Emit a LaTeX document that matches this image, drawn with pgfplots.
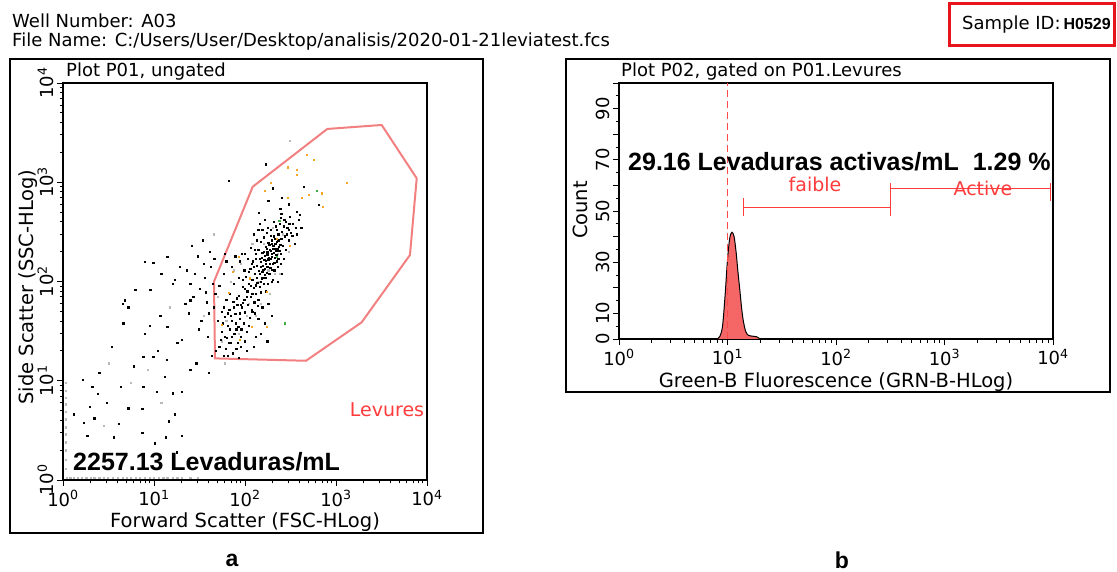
\documentclass[border=0pt]{standalone}
\usepackage{fontspec}
\setmainfont{DejaVu Sans}
\newfontfamily\arialf{Liberation Sans}
\usepackage{pgfplots}
\pgfplotsset{compat=1.18}

\definecolor{gatepink}{HTML}{F28080}
\definecolor{redtxt}{HTML}{FF3B3B}
\definecolor{dashred}{HTML}{FF4A4A}
\definecolor{histfill}{HTML}{F56666}
\definecolor{orangept}{HTML}{F5A623}
\definecolor{greenpt}{HTML}{3CB043}
\definecolor{boxred}{HTML}{E8141C}

\newcommand{\tfont}{\fontsize{18}{20}\selectfont}
\newcommand{\lfont}{\fontsize{19.5}{22}\selectfont}
\newcommand{\rfont}{\fontsize{19}{22}\selectfont}
\newcommand{\bigfont}{\arialf\bfseries\fontsize{25}{28}\selectfont}

\pgfplotsset{
  fcsaxis/.style={
    scale only axis,
    anchor=south west,
    xmin=1, xmax=10000,
    xtick={1,10,100,1000,10000},
    xticklabels={10\textsuperscript{0},10\textsuperscript{1},10\textsuperscript{2},10\textsuperscript{3},10\textsuperscript{4}},
    tick align=outside, xtick pos=bottom, ytick pos=left,
    major tick length=6pt, minor tick length=3.5pt,
    tick style={black, line width=0.8pt},
    axis line style={line width=1.2pt, black},
    tick label style={font=\tfont},
    yticklabel style={rotate=90, anchor=south},
    xticklabel style={yshift=-1pt},
  },
}

\begin{document}
\begin{tikzpicture}
\useasboundingbox (0,0) rectangle (1117pt,571pt);

% header
\node[inner sep=0pt, anchor=base west, font=\tfont] at (12pt,543pt) {Well Number: A03};
\node[inner sep=0pt, anchor=base west, font=\tfont] at (12pt,524pt) {File Name: C:/Users/User/Desktop/analisis/2020-01-21leviatest.fcs};
\draw[boxred, line width=3pt] (949pt,567pt) rectangle (1114pt,525pt);
\node[inner sep=0pt, anchor=base west, font=\tfont] at (962pt,541pt) {Sample ID:\,{\arialf\bfseries\fontsize{16}{18}\selectfont H0529}};

% panel frames
\draw[line width=1.2pt] (10pt,38pt) rectangle (483pt,512pt);
\draw[line width=1.2pt] (566pt,179pt) rectangle (1110pt,512pt);

% ---- left: scatter ----
\begin{axis}[xmode=log, ymode=log, fcsaxis, at={(63pt,91pt)}, width=364pt, height=397pt,
  ymin=1, ymax=10000,
  ytick={1,10,100,1000,10000},
  yticklabels={10\textsuperscript{0},10\textsuperscript{1},10\textsuperscript{2},10\textsuperscript{3},10\textsuperscript{4}},
]
% gray events on the edges
\addplot[only marks, mark=square*, mark size=0.6pt, gray!55] coordinates {
(1.1,1.06) (1.2,1.06) (1.3,1.06) (1.45,1.06) (1.6,1.06) (1.8,1.06) (2.0,1.06) (2.2,1.06)
(2.5,1.06) (2.8,1.06) (3.1,1.06) (3.5,1.06) (4.0,1.06) (4.5,1.06) (5.0,1.06) (5.6,1.06)
(6.3,1.06) (7.0,1.06) (7.9,1.06) (8.9,1.06) (10,1.06) (11.2,1.06) (12.6,1.06) (14,1.06)
(16,1.06) (18,1.06) (20,1.06) (25,1.06) (30,1.06)
(1.06,1.3) (1.06,1.6) (1.06,2.0) (1.06,2.4) (1.06,2.9) (1.06,3.4) (1.06,4.1) (1.06,4.9)
(1.06,5.8) (1.06,6.8) (1.06,8) (1.06,9.5)
(62,40) (85,30) (105,45) (140,100) (180,130) (230,190) (260,300) (120,240) (90,150)
(300,200) (50,70) (70,100) (313,2624) (45,300) (35,45) (60,15) (150,60) (210,120)
(2.8,3.5) (5.5,9.5) (8.5,13) (12,6) (3.2,15) (15,55)
(200,350) (160,240) (110,60) (75,130) (240,120) (55,25) (130,45) (185,75)
};
% black events
\addplot[only marks, mark=square*, mark size=0.65pt, black] coordinates {
(52,22) (55,31) (58,18) (60,44) (63,27) (65,36) (67,52) (70,24) (72,40) (74,63) (76,30)
(78,47) (80,21) (82,58) (84,35) (86,72) (88,42) (90,28) (92,55) (94,88) (96,38) (98,66)
(100,49) (102,112) (104,31) (106,80) (108,58) (110,95) (112,43) (114,135) (116,70)
(118,52) (120,105) (122,160) (124,86) (126,62) (128,120) (130,190) (132,75) (134,145)
(136,98) (138,57) (140,210) (142,128) (144,170) (146,88) (148,250) (150,140) (152,108)
(155,195) (158,132) (160,280) (162,165) (165,118) (168,225) (170,150) (172,310)
(175,185) (178,95) (180,245) (183,172) (186,210) (189,138) (192,330) (195,260)
(198,190) (200,150) (204,230) (208,285) (212,175) (216,360) (220,205) (224,250)
(228,140) (232,300) (236,225) (240,380) (245,190) (250,270) (255,320) (260,230)
(265,170) (270,420) (275,285) (280,210) (290,350) (300,260) (310,450) (320,310)
(335,380) (350,240) (370,300) (390,420) (415,350)
(148,158) (152,175) (156,145) (160,200) (164,182) (168,162) (172,215) (176,198)
(180,168) (185,235) (190,205) (196,178) (202,215) (208,196) (214,240) (220,185)
(226,215) (232,170) (238,205) (244,235) (154,125) (166,135) (174,122) (186,152)
(198,132) (210,155)
(54,26) (57,38) (61,21) (64,48) (68,33) (71,28) (75,55) (79,38) (83,24) (87,48)
(91,33) (95,61) (58,55) (62,66) (66,24) (73,19) (81,68) (89,22)
(120,75) (130,92) (125,140) (135,110) (105,70) (115,90) (100,85) (110,125) (95,105)
(128,48) (140,66) (150,78) (160,95) (170,110) (185,120) (200,105)
(115,220) (125,300) (135,260) (145,380) (155,330) (165,420) (190,290) (205,400)
(225,330) (245,440) (265,360) (285,300) (305,380) (330,290) (360,350) (250,480)
(215,270) (195,240) (178,350) (128,210) (140,330) (300,330) (280,400) (232,260) (210,215)
(52,90) (58,120) (62,160) (68,75) (72,140) (78,180) (85,110) (92,190) (98,130) (108,170)
(118,150) (132,170) (145,120) (158,110) (175,140) (190,170) (210,130) (230,100)
(245,150) (255,120) (60,190) (75,95) (88,160) (100,190) (225,160) (195,100) (170,80) (150,100)
(50,40) (55,50) (60,28) (70,45) (80,33) (90,58) (100,25) (110,36) (120,50) (130,28)
(140,42) (155,55) (165,38) (180,60) (195,45) (48,20) (65,18) (85,17) (105,20) (125,22)
(150,30) (175,25)
(169,1517) (66,1030) (201,869) (438,904) (640,590) (243,537) (141,493) (370,505)
(402,468) (300,600) (255,700) (180,650)
(28,120) (32,85) (35,150) (38,62) (41,200) (44,95) (24,48) (27,70) (30,180) (33,40)
(36,110) (39,28) (42,140) (45,55) (26,230) (31,33) (37,78) (43,18) (46,170) (29,15)
(34,260) (40,12) (25,95) (47,75) (23,130) (40,48)
(7.9,158) (9.8,155) (14,178) (4.5,60) (5.2,55) (9.1,82) (4.6,38) (11.7,45) (7.9,30)
(3.4,22) (7.6,17.4) (9.8,17.4) (13.8,16.2) (2.5,12) (1.66,10.2) (4.3,8.7) (7.6,8.7)
(10.7,7.7) (16,7.5) (20,7.7) (20,26) (2.1,8.7) (2.4,7.4) (1.95,5.5) (5.2,5.3) (7.4,5.2)
(1.3,4.6) (1.7,3.8) (4.1,3.7) (14.4,3.9) (17,4.6) (1.85,2.8) (3.6,2.7) (7.4,3.0)
(13.5,2.7) (20,2.8) (10.2,2.35) (17.8,1.9) (4.8,65) (6.2,82) (17,104) (25,65) (12,120)
(16,95) (19,140) (22,60) (14,35) (18,24) (11,20) (25,13) (13,11) (9,36) (6,14) (3,6)
(2.2,4.2)
};
% orange events
\addplot[only marks, mark=square*, mark size=0.6pt, orangept] coordinates {
(476,1883) (564,1676) (292,1416) (370,1328) (370,1183) (191,990) (163,822) (292,705)
(420,705) (497,743) (697,774) (714,568) (1312,990) (223,272) (312,228) (84.5,178)
(73,126) (113,108) (66,77) (173,79) (55,36.5) (119,35) (88,26) (173,35)
};
% green events
\addplot[only marks, mark=square*, mark size=0.6pt, greenpt] coordinates {
(614,817) (238,407) (223,178) (275,38)
};
% gate Levures
\addplot[gatepink, line width=2pt] coordinates {
(45.6,99.5) (46.8,16.8) (468,15.9) (1915,38.8) (6500,185) (7710,1096)
(3177,3776) (802,3443) (121.6,901) (45.6,99.5)
};
\end{axis}

% ---- right: histogram ----
\begin{axis}[xmode=log, fcsaxis, at={(619pt,232pt)}, width=434pt, height=256pt,
  ymin=0, ymax=100,
  ytick={0,10,...,100},
  yticklabels={0,10,,30,,50,,70,,90,},
  minor y tick num=1,
]
\addplot[draw=black, line width=1pt, fill=histfill, smooth] coordinates {
(8.0,0) (8.5,1) (9.0,5) (9.5,17) (10.0,31) (10.5,39.5) (11.0,41.7) (11.5,40) (12.0,34)
(12.5,26) (13.0,19) (13.5,12) (14.0,7) (14.7,3) (15.5,1.5) (17,1.1) (18.5,0.9) (20,0)
};
% threshold at 10
\draw[draw=dashred, line width=1.5pt, dash pattern=on 7pt off 4pt]
  (axis cs:10,0) -- (axis cs:10,100);
% markers: faible
\addplot[redtxt, line width=1pt] coordinates {(14,51.5) (320,51.5)};
\addplot[redtxt, line width=1pt] coordinates {(14,48) (14,55)};
% markers: Active
\addplot[redtxt, line width=1pt] coordinates {(320,58.6) (9550,58.6)};
\addplot[redtxt, line width=1pt] coordinates {(320,48) (320,61)};
\addplot[redtxt, line width=1pt] coordinates {(9550,54) (9550,61)};
\end{axis}

% titles
\node[inner sep=0pt, anchor=base west, font=\tfont] at (66pt,494pt) {Plot P01, ungated};
\node[inner sep=0pt, anchor=base west, font=\tfont] at (621pt,494pt) {Plot P02, gated on P01.Levures};

% axis labels
\node[inner sep=0pt, font=\lfont] at (245pt,49pt) {Forward Scatter (FSC-HLog)};
\node[inner sep=0pt, font=\lfont, rotate=90] at (28pt,284pt) {Side Scatter (SSC-HLog)};
\node[inner sep=0pt, font=\lfont] at (836pt,189pt) {Green-B Fluorescence (GRN-B-HLog)};
\node[inner sep=0pt, font=\lfont, rotate=90] at (580pt,361pt) {Count};

% annotations
\node[inner sep=0pt, font=\rfont, text=redtxt] at (387pt,161pt) {Levures};
\node[inner sep=0pt, anchor=west, font=\bigfont] at (73pt,109pt) {2257.13 Levaduras/mL};
\node[inner sep=0pt, anchor=west, font=\bigfont] at (628pt,409pt) {29.16 Levaduras activas/mL\ \ 1.29 \%};
\node[inner sep=0pt, font=\rfont, text=redtxt] at (815pt,387pt) {faible};
\node[inner sep=0pt, font=\rfont, text=redtxt] at (983pt,383pt) {Active};

% panel letters
\node[inner sep=0pt, font=\arialf\bfseries\fontsize{23}{25}\selectfont] at (232pt,11pt) {a};
\node[inner sep=0pt, font=\arialf\bfseries\fontsize{23}{25}\selectfont] at (842pt,11pt) {b};
\end{tikzpicture}
\end{document}
